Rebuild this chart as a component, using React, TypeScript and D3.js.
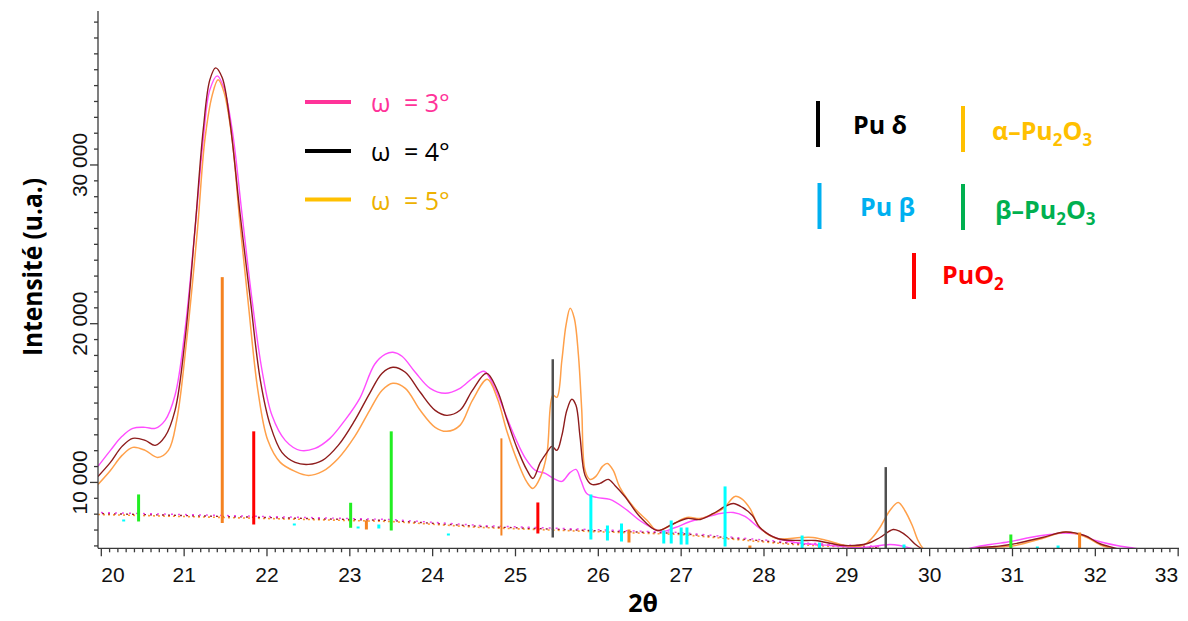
import React from "react";
import * as d3 from "d3";

type P = [number, number];
type Stick = [number, number, number]; // 2θ, base, top

const omega3: P[] = [
  [19.96, 11009], [20.11, 12019], [20.25, 12902], [20.38, 13407], [20.53, 13470], [20.65, 13407],
  [20.77, 13912], [20.89, 15489], [21.01, 19590], [21.13, 25899], [21.23, 31577], [21.31, 34731],
  [21.4, 35615], [21.48, 34857], [21.58, 32208], [21.7, 26845], [21.82, 21482], [21.94, 17066],
  [22.06, 14227], [22.22, 12650], [22.4, 12019], [22.58, 12145], [22.76, 12776], [22.94, 13912],
  [23.12, 15300], [23.3, 17445], [23.43, 18076], [23.52, 18202], [23.63, 17949], [23.79, 16940],
  [23.97, 15930], [24.15, 15615], [24.33, 15930], [24.48, 16561], [24.62, 17003], [24.75, 15930],
  [24.87, 14416], [25.0, 12776], [25.12, 11514], [25.24, 10757], [25.36, 10568], [25.48, 10189],
  [25.56, 10063], [25.66, 10631], [25.73, 10820], [25.79, 10126], [25.86, 9306], [25.98, 9054],
  [26.14, 8928], [26.32, 8360], [26.5, 7603], [26.69, 7035], [26.78, 6909], [26.93, 7161],
  [27.11, 7539], [27.29, 7792], [27.47, 8044], [27.63, 8107], [27.77, 7855], [27.95, 7098],
  [28.13, 6530], [28.38, 6215], [28.8, 6025], [29.16, 5899], [29.4, 6025], [29.52, 6088],
  [29.64, 6025], [29.78, 5836], [29.95, 5520], [30.25, 5330], [30.48, 5836], [30.73, 6088],
  [30.98, 6278], [31.21, 6530], [31.45, 6720], [31.64, 6814], [31.82, 6720], [32.0, 6341],
  [32.26, 6025], [32.49, 5836], [32.65, 5600],
];

const omega4: P[] = [
  [19.96, 10379], [20.11, 11262], [20.25, 12271], [20.38, 12776], [20.53, 12650], [20.65, 12334],
  [20.77, 12902], [20.89, 14542], [21.01, 18959], [21.13, 25899], [21.23, 32208], [21.31, 35362],
  [21.38, 36119], [21.46, 35489], [21.55, 32839], [21.67, 27160], [21.8, 21482], [21.92, 16435],
  [22.04, 13596], [22.18, 11893], [22.34, 11262], [22.5, 11136], [22.67, 11388], [22.86, 12334],
  [23.06, 13912], [23.24, 15615], [23.39, 16877], [23.52, 17255], [23.67, 16940], [23.85, 15678],
  [24.03, 14542], [24.17, 14227], [24.33, 14542], [24.48, 15804], [24.65, 16877], [24.78, 15804],
  [24.9, 13912], [25.02, 12145], [25.14, 10757], [25.21, 10252], [25.3, 11262], [25.38, 11893],
  [25.44, 12271], [25.5, 12019], [25.56, 12965], [25.62, 14542], [25.68, 15236], [25.73, 14858],
  [25.78, 12839], [25.84, 10442], [25.92, 9874], [26.02, 9937], [26.12, 10189], [26.2, 9811],
  [26.32, 9117], [26.5, 7855], [26.71, 6972], [26.89, 7350], [27.07, 7729], [27.23, 7666],
  [27.39, 8044], [27.53, 8486], [27.63, 8675], [27.74, 8423], [27.86, 7918], [27.95, 7161],
  [28.16, 6467], [28.44, 6341], [28.62, 6341], [28.96, 6025], [29.25, 6152], [29.4, 6530],
  [29.56, 7035], [29.64, 6909], [29.73, 6593], [29.83, 6088], [29.9, 5836], [30.07, 5332],
  [30.37, 5332], [30.55, 5836], [30.79, 5962], [30.98, 6088], [31.36, 6530], [31.64, 6877],
  [31.87, 6656], [32.05, 6152], [32.25, 5836], [32.42, 5521],
];

const omega5: P[] = [
  [19.96, 9874], [20.11, 10757], [20.25, 11703], [20.38, 12208], [20.53, 12019], [20.68, 11577],
  [20.81, 12019], [20.91, 13912], [21.03, 18959], [21.16, 25899], [21.25, 31577], [21.34, 34416],
  [21.41, 35362], [21.48, 34605], [21.58, 31577], [21.67, 26530], [21.77, 21482], [21.89, 15804],
  [22.01, 12650], [22.16, 11262], [22.34, 10694], [22.5, 10442], [22.67, 10694], [22.86, 11514],
  [23.06, 12902], [23.24, 14542], [23.39, 15804], [23.52, 16246], [23.67, 15930], [23.85, 14542],
  [24.03, 13470], [24.17, 13218], [24.33, 13596], [24.48, 15173], [24.66, 16498], [24.78, 15300],
  [24.9, 13155], [25.02, 11388], [25.14, 10000], [25.21, 9621], [25.3, 10315], [25.38, 11830],
  [25.45, 15489], [25.5, 15363], [25.56, 17697], [25.61, 19905], [25.66, 20978], [25.71, 20347],
  [25.76, 18012], [25.8, 14542], [25.84, 10757], [25.9, 10189], [25.97, 10379], [26.05, 11009],
  [26.11, 11199], [26.18, 10757], [26.26, 9685], [26.44, 8360], [26.59, 7603], [26.71, 6972],
  [26.89, 7350], [27.07, 7792], [27.23, 7729], [27.37, 7981], [27.51, 8360], [27.65, 9117],
  [27.74, 8928], [27.83, 8360], [27.95, 7161], [28.16, 6467], [28.44, 6530], [28.59, 6530],
  [28.76, 6341], [28.98, 6025], [29.19, 6025], [29.31, 6530], [29.4, 7161], [29.52, 8233],
  [29.62, 8738], [29.7, 8233], [29.79, 7287], [29.86, 6341], [29.92, 5836], [30.07, 5205],
  [30.37, 5205], [30.63, 5836], [31.0, 5994], [31.36, 6467], [31.64, 6877], [31.87, 6593],
  [32.08, 6025], [32.2, 5836], [32.36, 5521],
];

const background: P[] = [
  [19.96, 8107], [23.49, 7666], [24.58, 7287], [25.9, 7035], [26.99, 6846], [27.8, 6467],
  [28.35, 6215], [29.4, 5962],
];

const puDelta: Stick[] = [[25.45, 6530, 17760], [29.47, 5836, 10965]];
const alphaPu2O3: Stick[] = [
  [21.46, 7445, 22933], [23.2, 7035, 7603], [24.83, 6656, 12776], [26.37, 6215, 7035],
  [27.83, 5836, 6025], [31.81, 5836, 6846],
];
const puBeta: Stick[] = [
  [20.27, 7540, 7666], [22.33, 7287, 7413], [23.1, 7098, 7224], [23.35, 7098, 7350],
  [24.19, 6656, 6783], [25.91, 6404, 9243], [26.11, 6341, 7287], [26.28, 6278, 7413],
  [26.79, 6152, 6972], [26.88, 6152, 7603], [27.0, 6088, 7161], [27.07, 6088, 7161],
  [27.53, 5962, 9748], [28.46, 5836, 6656], [28.67, 5836, 6215], [29.69, 5836, 6088],
  [31.3, 5836, 5962], [31.55, 5836, 6025],
];
const betaPu2O3: Stick[] = [
  [20.45, 7540, 9243], [23.01, 7142, 8719], [23.5, 6972, 13218], [30.98, 5836, 6720],
];
const puO2: Stick[] = [[21.84, 7350, 13218], [25.27, 6783, 8738]];

const xTickValues = [20, 21, 22, 23, 24, 25, 26, 27, 28, 29, 30, 31, 32, 33];
const xTickLabels = ["20", "21", "22", "23", "24", "25", "26", "27", "28", "29", "30", "31", "32", "33"];
const yTickValues = [10000, 20000, 30000];
const yTickLabels = ["10 000", "20 000", "30 000"];
const omegaLabels = ["= 3°", "= 4°", "= 5°"];

const W = 1188;
const H = 621;
const L = 98;
const R = 1179;
const T = 11;
const B = 548.3;

export default function App() {
  const x = d3.scaleLinear().domain([19.96, 33.01]).range([L, R]);
  const y = d3.scaleLinear().domain([5850, 39700]).range([B, T]);
  const line = d3
    .line<P>()
    .x((d) => x(d[0]))
    .y((d) => y(d[1]))
    .curve(d3.curveCatmullRom.alpha(0.5));
  const straight = d3
    .line<P>()
    .x((d) => x(d[0]))
    .y((d) => y(d[1]));

  const minorX = d3.range(200, 331).map((v) => v / 10).filter((v) => Math.abs(v - Math.round(v)) > 1e-6);
  const minorY = d3.range(6, 40).map((v) => v * 1000).filter((v) => v % 10000 !== 0);

  const sticks = (data: Stick[], color: string, w: number | ((s: Stick) => number), key: string) =>
    data.map((s, i) => (
      <line
        key={key + i}
        x1={x(s[0])}
        x2={x(s[0])}
        y1={y(s[1])}
        y2={y(s[2])}
        stroke={color}
        strokeWidth={typeof w === "number" ? w : w(s)}
      />
    ));

  const axisColor = "#3a3a3a";
  const tickFont = "'Liberation Sans', Arial, sans-serif";
  const legFont = "'Open Sans', 'Noto Sans', sans-serif";

  const omegaColors = ["#FF3399", "#000000", "#FFC000"];
  const omegaText = ["#FF3399", "#000000", "#EDB100"];
  const omegaLineY = [102, 151, 199.5];
  const omegaTextY = [112, 161, 210];

  return (
    <svg width={W} height={H} style={{ position: "absolute", left: 0, top: 0, background: "#fff" }}>
      <defs>
        <clipPath id="plot">
          <rect x={L} y={T} width={R - L} height={B - T} />
        </clipPath>
      </defs>
      <rect x={0} y={0} width={W} height={H} fill="#fff" />

      {/* background dotted lines */}
      <g clipPath="url(#plot)" fill="none">
        <path d={straight(background) || ""} stroke="#FF9933" strokeWidth={1.6} strokeDasharray="2 3" transform="translate(0,2)" />
        <path d={straight(background) || ""} stroke="#9B1B30" strokeWidth={1.4} strokeDasharray="2 4" strokeDashoffset={2} transform="translate(0,1)" />
        <path d={straight(background) || ""} stroke="#EE44EE" strokeWidth={1.4} strokeDasharray="2 5" strokeDashoffset={4} />
      </g>

      {/* curves */}
      <g clipPath="url(#plot)" fill="none" strokeLinejoin="round">
        <path d={line(omega3) || ""} stroke="#FF4DFF" strokeWidth={1.4} />
        <path d={line(omega5) || ""} stroke="#FFA04A" strokeWidth={1.5} />
        <path d={line(omega4) || ""} stroke="#8E1C1C" strokeWidth={1.4} />
      </g>

      {/* reference sticks */}
      <g>
        {sticks(puBeta, "#00FFFF", 3, "pb")}
        {sticks(alphaPu2O3, "#F58220", (s) => (s[0] > 24.5 && s[0] < 25 ? 2 : 3), "ap")}
        {sticks(betaPu2O3, "#22EE22", 3, "bp")}
        {sticks(puO2, "#FF0000", 3, "po")}
        {sticks(puDelta, "#505050", 2.5, "pd")}
      </g>

      {/* axes */}
      <g stroke={axisColor} strokeWidth={1.3}>
        <line x1={L} x2={L} y1={T} y2={B} />
        <line x1={L} x2={R} y1={B} y2={B} />
        {xTickValues.map((v) => (
          <line key={"xM" + v} x1={x(v)} x2={x(v)} y1={B} y2={B + 8} />
        ))}
        {minorX.map((v) => (
          <line key={"xm" + v} x1={x(v)} x2={x(v)} y1={B} y2={B + 4} />
        ))}
        {yTickValues.map((v) => (
          <line key={"yM" + v} x1={L} x2={L - 8} y1={y(v)} y2={y(v)} />
        ))}
        {minorY.map((v) => (
          <line key={"ym" + v} x1={L} x2={L - 4} y1={y(v)} y2={y(v)} />
        ))}
      </g>
      <g fontFamily={tickFont} fontSize={21} fill="#111">
        {xTickValues.map((v, i) => (
          <text
            key={"xl" + v}
            x={x(v)}
            y={582}
            textAnchor={i === 0 ? "start" : i === xTickValues.length - 1 ? "end" : "middle"}
          >
            {xTickLabels[i]}
          </text>
        ))}
        {yTickValues.map((v, i) => (
          <text key={"yl" + v} transform={`translate(87,${y(v)}) rotate(-90)`} textAnchor="middle">
            {yTickLabels[i]}
          </text>
        ))}
      </g>

      {/* axis titles */}
      <text
        transform="translate(42,267) rotate(-90)"
        textAnchor="middle"
        fontFamily={legFont}
        fontWeight={700}
        fontSize={27}
        textLength={178}
        lengthAdjust="spacingAndGlyphs"
        fill="#000"
      >
        Intensité (u.a.)
      </text>
      <text x={643} y={612} textAnchor="middle" fontFamily={legFont} fontWeight={700} fontSize={25} fill="#000">
        2θ
      </text>

      {/* omega legend */}
      {omegaLabels.map((lab, i) => (
        <g key={"om" + i}>
          <line x1={305} x2={351} y1={omegaLineY[i]} y2={omegaLineY[i]} stroke={omegaColors[i]} strokeWidth={4} />
          <text x={371} y={omegaTextY[i]} fontFamily={legFont} fontSize={25} fill={omegaText[i]}>
            ω
          </text>
          <text x={404} y={omegaTextY[i]} fontFamily={legFont} fontSize={25} fill={omegaText[i]}>
            {lab}
          </text>
        </g>
      ))}

      {/* phase legend */}
      <g fontFamily={legFont} fontWeight={700} fontSize={25}>
        <line x1={818} x2={818} y1={101} y2={147} stroke="#000" strokeWidth={4} />
        <text x={853} y={134} fill="#000">Pu δ</text>

        <line x1={963} x2={963} y1={106} y2={152} stroke="#FFC000" strokeWidth={4} />
        <text x={992} y={140} fill="#FFC000">
          α–Pu<tspan fontSize={17} dy={6}>2</tspan>
          <tspan dy={-6}>O</tspan>
          <tspan fontSize={17} dy={6}>3</tspan>
        </text>

        <line x1={819.5} x2={819.5} y1={183} y2={229} stroke="#00B0F0" strokeWidth={4} />
        <text x={860} y={216} fill="#00B0F0">Pu β</text>

        <line x1={963} x2={963} y1={184} y2={230} stroke="#00B050" strokeWidth={4} />
        <text x={995} y={219} fill="#00B050">
          β–Pu<tspan fontSize={17} dy={6}>2</tspan>
          <tspan dy={-6}>O</tspan>
          <tspan fontSize={17} dy={6}>3</tspan>
        </text>

        <line x1={914} x2={914} y1={253} y2={299} stroke="#FF0000" strokeWidth={4} />
        <text x={942} y={284} fill="#FF0000">
          PuO<tspan fontSize={17} dy={6}>2</tspan>
        </text>
      </g>
    </svg>
  );
}
